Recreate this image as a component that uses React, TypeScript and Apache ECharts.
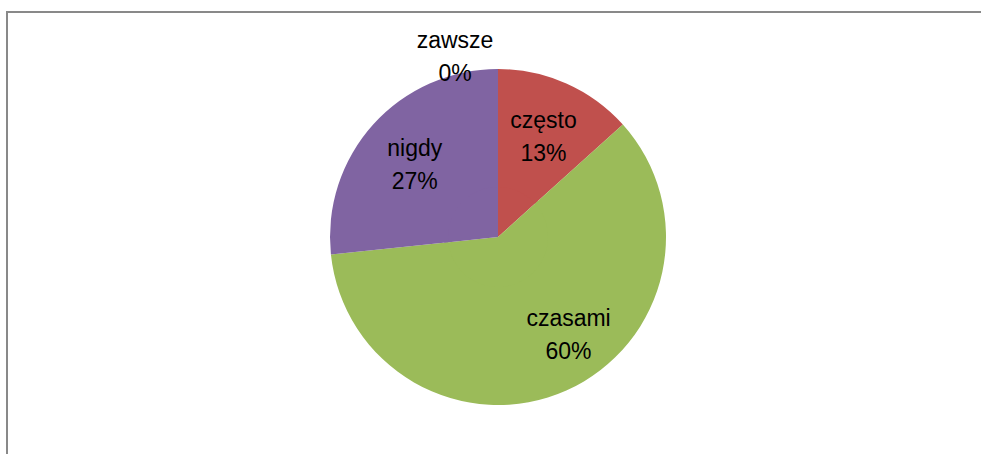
import React, { useEffect, useRef } from "react";
import * as echarts from "echarts";

const categories = ["zawsze", "często", "czasami", "nigdy"];
const values = [0, 2, 9, 4];
const colors = ["#4F81BD", "#C0504D", "#9BBB59", "#8064A2"];
// label nudges (px) where the original placed labels away from the slice middle
const labelNudge: Record<string, [number, number]> = {
  zawsze: [-43, -69],
  czasami: [25, -5],
};

export default function App() {
  const ref = useRef<HTMLDivElement>(null);
  useEffect(() => {
    if (!ref.current) return;
    const chart = echarts.init(ref.current, undefined, { renderer: "svg" });
    const data = categories.map((name, i) => ({
      name,
      value: values[i],
      itemStyle: { color: colors[i] },
    }));
    chart.setOption({
      animation: false,
      backgroundColor: "#ffffff",
      graphic: [
        {
          type: "polyline",
          shape: { points: [[7, 454], [7, 12], [981, 12]] },
          style: { stroke: "#898989", lineWidth: 2, fill: "none" },
          silent: true,
        },
      ],
      series: [
        {
          type: "pie",
          center: [498, 237],
          radius: [0, 54],
          startAngle: 90,
          clockwise: true,
          silent: true,
          z: 1,
          label: { show: false },
          labelLine: { show: false },
          emphasis: { disabled: true },
          itemStyle: { borderWidth: 0 },
          data,
        },
        {
          type: "pie",
          center: [498, 237],
          radius: [50, 168],
          startAngle: 90,
          clockwise: true,
          percentPrecision: 0,
          z: 2,
          emphasis: { disabled: true },
          itemStyle: { borderWidth: 0 },
          label: {
            show: true,
            position: "inside",
            formatter: "{b}\n{d}%",
            color: "#000000",
            fontFamily: "Liberation Sans",
            fontSize: 23,
            lineHeight: 33,
            align: "center",
          },
          labelLine: { show: false },
          labelLayout: (params: any) => {
            const name = categories[params.dataIndex];
            const n = labelNudge[name];
            return n ? { dx: n[0], dy: n[1] } : { dy: 2 };
          },
          data,
        },
      ],
    });
    return () => chart.dispose();
  }, []);
  return (
    <div
      ref={ref}
      style={{ position: "fixed", left: 0, top: 0, width: 981, height: 454 }}
    />
  );
}
